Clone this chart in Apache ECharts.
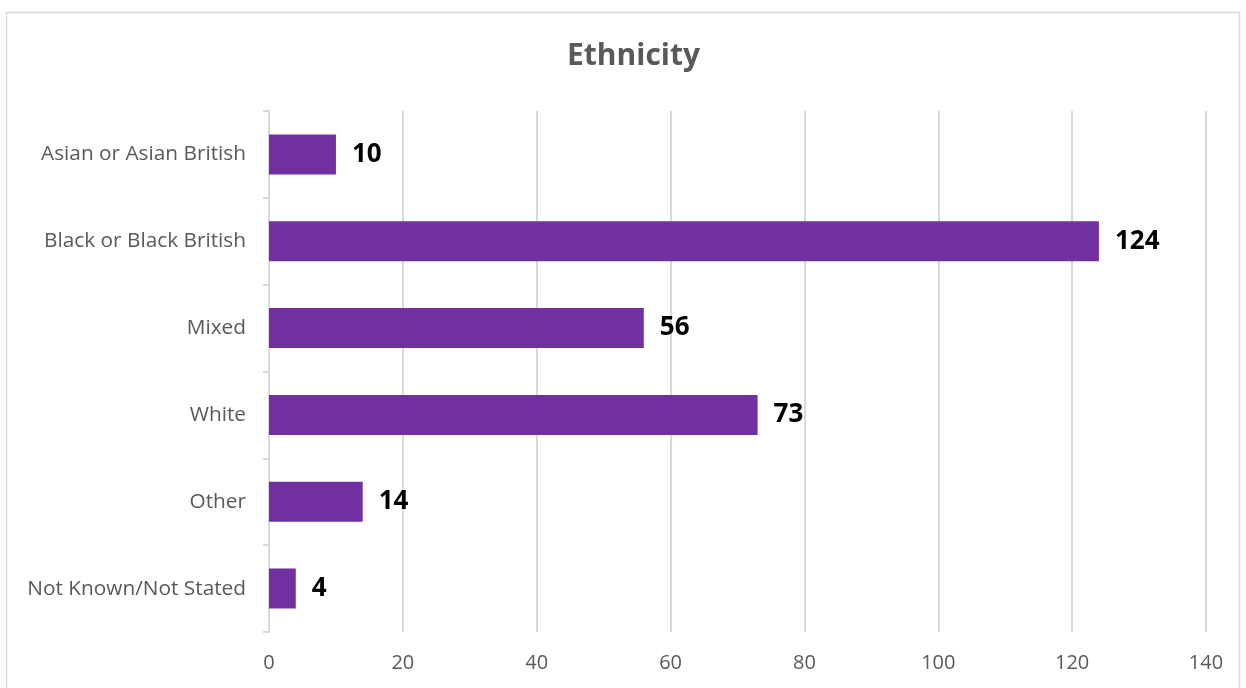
<!DOCTYPE html>
<html>
<head>
<meta charset="utf-8">
<script src="https://cdn.jsdelivr.net/npm/echarts@6/dist/echarts.min.js"></script>
<style>
html,body{margin:0;padding:0;background:#fff;}
#c{width:1246px;height:688px;}
</style>
</head>
<body>
<div id="c"></div>
<script>
const categories = ["Asian or Asian British", "Black or Black British", "Mixed", "White", "Other", "Not Known/Not Stated"];
const values = [10, 124, 56, 73, 14, 4];
const chartTitle = "Ethnicity";

const chart = echarts.init(document.getElementById('c'));
chart.setOption({
  animation: false,
  backgroundColor: '#fff',
  graphic: [{
    type: 'rect',
    shape: {x: 6.5, y: 12.5, width: 1233, height: 700},
    style: {fill: 'none', stroke: '#d9d9d9', lineWidth: 1.5},
    silent: true
  }],
  title: {
    text: chartTitle,
    left: 562,
    top: 36,
    textStyle: {fontFamily: 'Open Sans', fontWeight: 'bold', fontSize: 30, color: '#595959'}
  },
  grid: {left: 269, right: 40, top: 111, bottom: 56, containLabel: false},
  xAxis: {
    type: 'value',
    min: 0, max: 140, interval: 20,
    axisLine: {show: false},
    axisTick: {show: false},
    splitLine: {show: true, lineStyle: {color: '#d9d9d9', width: 2}},
    axisLabel: {margin: 21, fontFamily: 'Open Sans', fontSize: 20, color: '#595959'}
  },
  yAxis: {
    type: 'category',
    data: categories,
    inverse: true,
    axisLine: {show: true, lineStyle: {color: '#d9d9d9', width: 2}},
    axisTick: {show: true, length: 6, lineStyle: {color: '#d9d9d9', width: 2}},
    axisLabel: {margin: 23, fontFamily: 'Open Sans', fontSize: 20.8, color: '#595959'}
  },
  series: [{
    type: 'bar',
    data: values,
    barWidth: 40,
    itemStyle: {color: '#7030A0'},
    label: {
      show: true,
      position: 'right',
      distance: 16,
      fontFamily: 'Open Sans',
      fontWeight: 'bold',
      fontSize: 26,
      color: '#000'
    }
  }]
});
</script>
</body>
</html>
